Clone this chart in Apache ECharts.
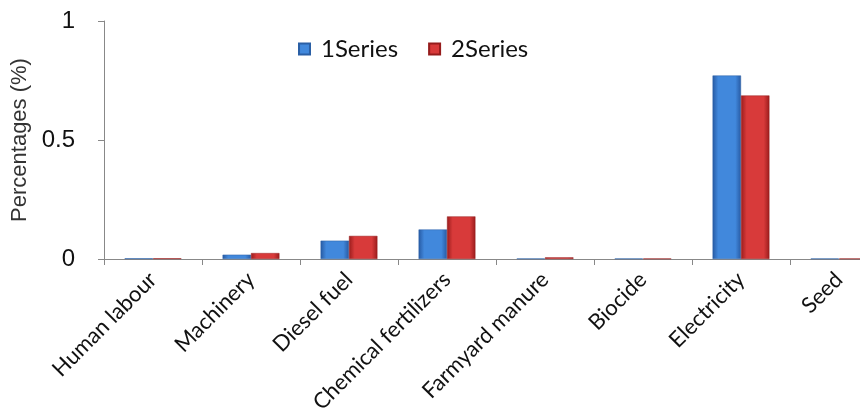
<!DOCTYPE html>
<html><head><meta charset="utf-8">
<script src="https://cdn.jsdelivr.net/npm/echarts@6/dist/echarts.min.js"></script>
<style>html,body{margin:0;padding:0;background:#fff;overflow:hidden;width:860px;height:419px}#c{width:888px;height:419px}</style>
</head><body><div id="c"></div>
<script>
const categories = ['Human labour','Machinery','Diesel fuel','Chemical fertilizers','Farmyard manure','Biocide','Electricity','Seed'];
const series1 = [0.003, 0.018, 0.077, 0.124, 0.002, 0.002, 0.771, 0.002];
const series2 = [0.003, 0.025, 0.097, 0.179, 0.007, 0.002, 0.687, 0.002];
const yTicks = [0, 0.5, 1];

function grad(edge, mid){
  return new echarts.graphic.LinearGradient(0,0,1,0,[
    {offset:0,color:edge},{offset:0.2,color:mid},{offset:0.8,color:mid},{offset:1,color:edge}]);
}
const chart = echarts.init(document.getElementById('c'));
chart.setOption({
  animation:false,
  legend:{top:32,left:293,itemWidth:11,itemHeight:11,itemGap:30,
    textStyle:{fontFamily:'Lato',fontSize:24,color:'#111',padding:[0,0,0,6]},
    data:[{name:'1Series',icon:'rect'},{name:'2Series',icon:'rect'}]},
  grid:{left:104,top:21,bottom:160,right:0,containLabel:false},
  xAxis:{type:'category',data:categories,
    axisLine:{lineStyle:{color:'#888'}},
    axisTick:{show:true,length:6,lineStyle:{color:'#888'}},
    axisLabel:{rotate:45,margin:17,fontFamily:'Lato',fontSize:22,color:'#111',interval:0}},
  yAxis:{type:'value',min:0,max:1,interval:0.5,
    name:'Percentages (%)',nameLocation:'middle',nameGap:70,
    nameTextStyle:{fontFamily:'Liberation Sans',fontSize:22,color:'#333'},
    axisLine:{show:true,lineStyle:{color:'#888'}},
    axisTick:{show:true,length:6,lineStyle:{color:'#888'}},
    splitLine:{show:false},
    axisLabel:{fontFamily:'Liberation Sans',fontSize:24,color:'#111',margin:29,
      formatter:v=>yTicks.includes(v)?String(v):''}},
  series:[
    {name:'1Series',type:'bar',data:series1,barGap:'0%',barCategoryGap:'42%',
     color:'#3a7bd0',
     itemStyle:{color:grad('#275aa3','#4188dc'),borderColor:'#2a5fa5',borderWidth:0.5}},
    {name:'2Series',type:'bar',data:series2,
     color:'#c83232',
     itemStyle:{color:grad('#9a1c1c','#d83a3a'),borderColor:'#961c1c',borderWidth:0.5}}
  ]
});
</script></body></html>
